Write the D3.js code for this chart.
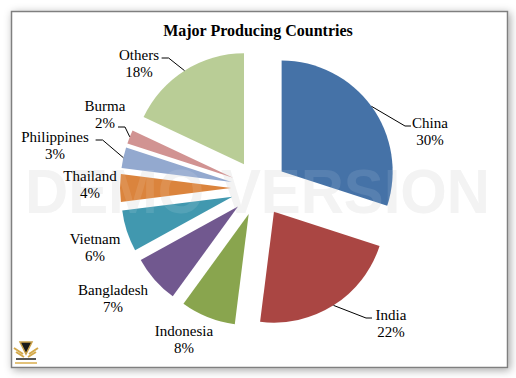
<!DOCTYPE html>
<html>
  <head>
    <meta charset="utf-8">
    <script type="text/javascript" src="https://cdn.jsdelivr.net/npm/d3@7/dist/d3.min.js"></script>
    <style>
      body { margin: 0; background: #fff; }
    </style>
  </head>
  <body>
    <script type="text/javascript">
      // Data: share of production per country
      var countries = ["China", "India", "Indonesia", "Bangladesh", "Vietnam",
                       "Thailand", "Philippines", "Burma", "Others"];
      var shares = [30, 22, 8, 7, 6, 4, 3, 2, 18];
      var colors = ["#4572A7", "#AA4643", "#89A54E", "#71588F", "#4198AF",
                    "#DB843D", "#93A9CF", "#D19392", "#B9CD96"];

      // Label anchor (centre x, first baseline) and whether a leader line is drawn
      var labelPos = [[430, 128], [391, 320], [184, 336], [113, 295], [95, 244],
                      [90, 181], [55, 142], [105, 111], [139, 60]];
      var leader = [true, true, false, false, false, false, true, true, true];

      var serif = "'Liberation Serif', 'Times New Roman', Times, serif";
      var width = 516;
      var height = 378;
      var cx = 259, cy = 188;
      var radius = 111;
      var explode = 28;

      var svg = d3.select("body")
                  .append("svg")
                  .attr("width", width)
                  .attr("height", height);

      // Drop shadow for the chart frame
      var defs = svg.append("defs");
      var filt = defs.append("filter")
                     .attr("id", "shadow")
                     .attr("x", "-10%").attr("y", "-10%")
                     .attr("width", "120%").attr("height", "120%");
      filt.append("feDropShadow")
          .attr("dx", 2).attr("dy", 2)
          .attr("stdDeviation", 4)
          .attr("flood-color", "#000")
          .attr("flood-opacity", 0.35);

      svg.append("rect")
         .attr("x", 11.5).attr("y", 11.5)
         .attr("width", 496).attr("height", 356)
         .attr("fill", "#fff")
         .attr("stroke", "#7f7f7f")
         .attr("stroke-width", 1.5)
         .attr("filter", "url(#shadow)");

      // Watermark behind the pie
      svg.append("text")
         .attr("x", 25).attr("y", 213)
         .attr("textLength", 465)
         .attr("lengthAdjust", "spacingAndGlyphs")
         .attr("font-family", "'Liberation Sans', Arial, sans-serif")
         .attr("font-weight", "bold")
         .attr("font-size", 63)
         .attr("fill", "#f2f2f2")
         .text("DEMO VERSION");

      // Title
      svg.append("text")
         .attr("x", 258).attr("y", 36)
         .attr("text-anchor", "middle")
         .attr("font-family", serif)
         .attr("font-weight", "bold")
         .attr("font-size", 16)
         .text("Major Producing Countries");

      // Pie layout, clockwise from 12 o'clock
      var pie = d3.pie().sort(null).value(function(d) { return d; });
      var arcs = pie(shares);
      var arc = d3.arc().innerRadius(0).outerRadius(radius);

      function mid(d) { return (d.startAngle + d.endAngle) / 2; }
      function offset(d) {
        var a = mid(d);
        return [cx + explode * Math.sin(a), cy - explode * Math.cos(a)];
      }

      svg.append("g")
         .selectAll("path")
         .data(arcs)
         .enter()
         .append("path")
         .attr("d", arc)
         .attr("fill", function(d, i) { return colors[i]; })
         .attr("transform", function(d) {
           var o = offset(d);
           return "translate(" + o[0] + "," + o[1] + ")";
         });

      // Faint watermark over the slices
      svg.append("text")
         .attr("x", 25).attr("y", 213)
         .attr("textLength", 465)
         .attr("lengthAdjust", "spacingAndGlyphs")
         .attr("font-family", "'Liberation Sans', Arial, sans-serif")
         .attr("font-weight", "bold")
         .attr("font-size", 63)
         .attr("fill", "#fff")
         .attr("fill-opacity", 0.1)
         .text("DEMO VERSION");

      // Leader lines: from outer arc midpoint to label with a short elbow
      arcs.forEach(function(d, i) {
        if (!leader[i]) return;
        var o = offset(d);
        var a = mid(d);
        var px = o[0] + radius * Math.sin(a);
        var py = o[1] - radius * Math.cos(a);
        var lx = labelPos[i][0], ly = labelPos[i][1];
        var right = px < lx;
        var textW = countries[i].length * 3.6;
        var ex, hx;
        if (right) {
          hx = lx - textW - 1;
          ex = hx - 6;
        } else {
          hx = lx + textW + 1;
          ex = hx + 7;
        }
        var ey = ly - 2;
        if (i === 7) { ey = ly + 16; hx = lx + 13; ex = hx + 7; }
        svg.append("polyline")
           .attr("points", [[px, py], [ex, ey], [hx, ey]].join(" "))
           .attr("fill", "none")
           .attr("stroke", "#000")
           .attr("stroke-width", 1);
      });

      // Labels
      arcs.forEach(function(d, i) {
        var t = svg.append("text")
                   .attr("text-anchor", "middle")
                   .attr("font-family", serif)
                   .attr("font-size", 15)
                   .attr("fill", "#000");
        t.append("tspan")
         .attr("x", labelPos[i][0]).attr("y", labelPos[i][1])
         .text(countries[i]);
        t.append("tspan")
         .attr("x", labelPos[i][0]).attr("y", labelPos[i][1] + 17)
         .text(shares[i] + "%");
      });

      // Small emblem in the bottom-left corner
      var logo = svg.append("g").attr("transform", "translate(26,352)");
      logo.append("path")
          .attr("d", "M-12,-4 L-3,2 M12,-4 L3,2 M-10,0 L-2,5 M10,0 L2,5")
          .attr("stroke", "#d4a94a").attr("stroke-width", 2).attr("fill", "none");
      logo.append("path")
          .attr("d", "M-6,-10 L6,-10 L0,2 Z")
          .attr("fill", "#1a1a1a").attr("stroke", "#c9a04a").attr("stroke-width", 1.5);
      logo.append("rect")
          .attr("x", -10).attr("y", 6).attr("width", 20).attr("height", 2)
          .attr("fill", "#555");
      logo.append("rect")
          .attr("x", -11).attr("y", 10).attr("width", 22).attr("height", 2)
          .attr("fill", "#e3c27a");
    </script>
  </body>
</html>
